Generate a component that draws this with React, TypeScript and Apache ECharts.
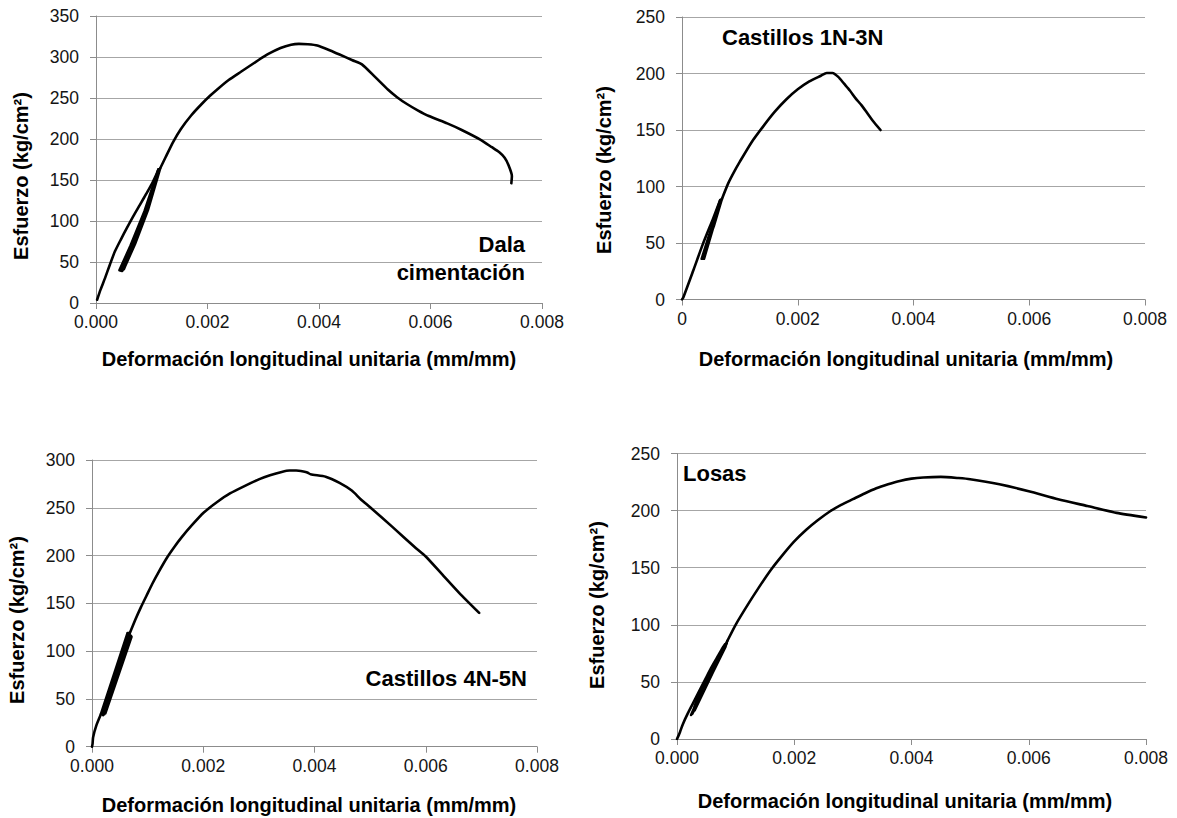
import React, { useEffect, useRef } from "react";
import * as echarts from "echarts";

// ---------- tick labels ----------
const xTickValues = [0, 0.002, 0.004, 0.006, 0.008];
const xTickLabels3 = ["0.000", "0.002", "0.004", "0.006", "0.008"];
const xTickLabelsZero = ["0", "0.002", "0.004", "0.006", "0.008"];
const yMaxDala = 350;
const yMaxCast13 = 250;
const yMaxCast45 = 300;
const yMaxLosas = 250;

// ---------- Dala cimentación ----------
const dalaRise = [
  [0.00002, 4], [0.00008, 16], [0.00016, 30], [0.00025, 47], [0.00034, 63],
  [0.00045, 78], [0.00055, 91], [0.00067, 106], [0.00079, 120], [0.0009, 133],
  [0.001, 145], [0.00109, 158], [0.00112, 163],
];
const dalaCycles = [
  [0.00112, 163], [0.00087, 112], [0.00062, 70], [0.00042, 40],
  [0.00047, 39], [0.00066, 70], [0.0009, 112], [0.00113, 162],
  [0.00089, 112], [0.00064, 70], [0.00045, 41],
  [0.0005, 41], [0.00068, 71], [0.00092, 112], [0.00114, 163],
  [0.00091, 112], [0.00066, 71], [0.00047, 42],
  [0.00051, 43], [0.0007, 72], [0.00093, 113], [0.00115, 164],
];
const dalaEnvelope = [
  [0.00115, 164], [0.00125, 178], [0.00138, 196], [0.00152, 212], [0.00171, 229],
  [0.0019, 243], [0.00205, 253], [0.0022, 262], [0.00238, 272], [0.0026, 282],
  [0.00291, 296], [0.0031, 304], [0.00331, 311], [0.0035, 315], [0.00364, 316],
  [0.0038, 315.5], [0.00397, 314], [0.0042, 308], [0.00437, 303], [0.0046, 296],
  [0.00477, 291], [0.005, 276], [0.00524, 260], [0.0054, 251], [0.00557, 243],
  [0.00577, 235], [0.00597, 228], [0.0063, 219], [0.00656, 211], [0.0069, 199],
  [0.0071, 190], [0.00723, 184], [0.00733, 177], [0.0074, 168], [0.00746, 155],
  [0.00745, 146],
];

// ---------- Castillos 1N-3N ----------
const cast13Rise = [
  [0, 0], [0.00002, 1.5], [0.00019, 25], [0.00036, 49], [0.00054, 72], [0.00066, 88],
];
const cast13Cycles = [
  [0.00066, 88], [0.0005, 62], [0.00034, 36], [0.00038, 36], [0.00053, 62],
  [0.00067, 88], [0.00052, 63], [0.00036, 38], [0.00055, 65], [0.00069, 89],
];
const cast13Envelope = [
  [0.00069, 89], [0.0008, 103], [0.0009, 113], [0.001, 122], [0.0012, 139],
  [0.0014, 153], [0.0016, 166], [0.0018, 177], [0.002, 186], [0.0022, 193],
  [0.0024, 198], [0.0025, 200.5], [0.0026, 200.5], [0.0027, 197], [0.0028, 191],
  [0.0029, 185], [0.003, 178], [0.0031, 172], [0.0032, 165], [0.0033, 158],
  [0.00343, 150],
];

// ---------- Castillos 4N-5N ----------
const cast45Rise = [
  [0, 0], [0.00001, 3], [0.00002, 10], [0.00008, 22.6], [0.00016, 34],
];
const cast45Cycles = [
  [0.00016, 34], [0.00064, 119], [0.0002, 33], [0.00067, 118], [0.00018, 35],
  [0.0007, 116], [0.00022, 34], [0.00066, 119], [0.00024, 35], [0.00071, 115],
  [0.0002, 36], [0.00068, 119],
];
const cast45Envelope = [
  [0.00068, 119], [0.00078, 133], [0.00088, 146], [0.00098, 158], [0.00108, 170],
  [0.0012, 183], [0.00135, 198], [0.00148, 209], [0.00161, 219], [0.0018, 232],
  [0.00201, 245], [0.00225, 256], [0.00248, 265], [0.00275, 273], [0.00301, 280],
  [0.0032, 284], [0.00341, 287.5], [0.00355, 289], [0.00367, 289], [0.0038, 288],
  [0.00387, 287], [0.00393, 285], [0.0042, 282.5], [0.00445, 276], [0.00467, 268],
  [0.00483, 259], [0.005, 250.5], [0.0054, 230], [0.0058, 209], [0.006, 199],
  [0.0063, 180], [0.0066, 161], [0.00696, 140],
];

// ---------- Losas ----------
const losasRise = [
  [0, 0], [0.00005, 6], [0.0001, 13], [0.00018, 22], [0.00027, 31], [0.00037, 41],
  [0.00048, 52], [0.00058, 62], [0.00068, 71], [0.00078, 80], [0.00081, 82],
];
const losasCycles = [
  [0.00081, 82], [0.00028, 24], [0.00083, 81], [0.00026, 22], [0.00085, 84],
  [0.0003, 25], [0.00082, 83], [0.00024, 21], [0.00029, 27], [0.00036, 38],
  [0.00086, 86],
];
const losasEnvelope = [
  [0.00086, 86], [0.001, 100], [0.0012, 117], [0.0014, 133], [0.0016, 148],
  [0.0018, 161], [0.002, 173], [0.0022, 183], [0.0024, 191.5], [0.0026, 199],
  [0.0028, 205], [0.003, 210], [0.0032, 215], [0.0034, 219.5], [0.0036, 223],
  [0.0038, 226], [0.004, 228], [0.0042, 229], [0.0045, 229.5], [0.0048, 228.5],
  [0.005, 227.5], [0.0055, 223], [0.006, 217], [0.0065, 210], [0.007, 204],
  [0.0075, 198], [0.008, 194],
];

// ---------- texts ----------
const xTitle = "Deformación longitudinal unitaria (mm/mm)";
const yTitle = "Esfuerzo (kg/cm²)";
const panelTitles = ["Dala\ncimentación", "Castillos 1N-3N", "Castillos 4N-5N", "Losas"];

const FONT = '"Liberation Sans", Arial, Helvetica, sans-serif';
const AXIS_COLOR = "#8c8c8c";
const GRID_COLOR = "#a6a6a6";

const panels = [
  {
    grid: { left: 96, top: 16, width: 446, height: 287 },
    yMax: yMaxDala, xLabels: xTickLabels3,
    rise: dalaRise, cycles: dalaCycles, envelope: dalaEnvelope,
    xTitlePos: [309, 359], yTitlePos: [21, 176],
    title: { x: 525, y: 258, align: "right" },
  },
  {
    grid: { left: 682, top: 17, width: 463, height: 282.5 },
    yMax: yMaxCast13, xLabels: xTickLabelsZero,
    rise: cast13Rise, cycles: cast13Cycles, envelope: cast13Envelope,
    xTitlePos: [906, 359], yTitlePos: [604, 170],
    title: { x: 722, y: 37, align: "left" },
  },
  {
    grid: { left: 92, top: 460, width: 445, height: 286.7 },
    yMax: yMaxCast45, xLabels: xTickLabels3,
    rise: cast45Rise, cycles: cast45Cycles, envelope: cast45Envelope,
    xTitlePos: [309, 805], yTitlePos: [17, 620],
    title: { x: 527, y: 678, align: "right" },
  },
  {
    grid: { left: 677, top: 453.5, width: 469, height: 285.5 },
    yMax: yMaxLosas, xLabels: xTickLabels3,
    rise: losasRise, cycles: losasCycles, envelope: losasEnvelope,
    xTitlePos: [905, 801], yTitlePos: [597, 605],
    title: { x: 683, y: 473, align: "left" },
  },
];

function buildOption() {
  const grids: any[] = [];
  const xAxes: any[] = [];
  const yAxes: any[] = [];
  const series: any[] = [];
  const graphics: any[] = [];

  panels.forEach((p, i) => {
    grids.push({ ...p.grid, containLabel: false });
    xAxes.push({
      type: "value",
      gridIndex: i,
      min: 0,
      max: 0.008,
      interval: 0.002,
      axisLine: { show: true, onZero: false, lineStyle: { color: AXIS_COLOR, width: 1 } },
      axisTick: { show: true, length: 6, lineStyle: { color: AXIS_COLOR } },
      splitLine: { show: false },
      axisLabel: {
        fontSize: 17.5,
        color: "#141414",
        fontFamily: FONT,
        margin: 10,
        formatter: (v: number) => {
          const k = xTickValues.findIndex((t) => Math.abs(t - v) < 1e-9);
          return k >= 0 ? p.xLabels[k] : "";
        },
      },
    });
    yAxes.push({
      type: "value",
      gridIndex: i,
      min: 0,
      max: p.yMax,
      interval: 50,
      axisLine: { show: true, lineStyle: { color: AXIS_COLOR, width: 1 } },
      axisTick: { show: true, length: 6, lineStyle: { color: AXIS_COLOR } },
      splitLine: { show: true, lineStyle: { color: GRID_COLOR, width: 1 } },
      axisLabel: { fontSize: 17.5, color: "#141414", fontFamily: FONT, margin: 17 },
    });
    const segs = [
      { name: "rise", data: p.rise, smooth: 0.2 },
      { name: "cycles", data: p.cycles, smooth: false },
      { name: "envelope", data: p.envelope, smooth: 0.2 },
    ];
    segs.forEach((s) => {
      series.push({
        type: "line",
        name: `${panelTitles[i]} ${s.name}`,
        xAxisIndex: i,
        yAxisIndex: i,
        data: s.data,
        smooth: s.smooth,
        showSymbol: false,
        symbol: "none",
        silent: true,
        lineStyle: { color: "#000", width: 2.6, cap: "round", join: "round" },
      });
    });

    graphics.push({
      type: "text",
      x: p.xTitlePos[0],
      y: p.xTitlePos[1],
      style: {
        text: xTitle,
        fontSize: 20,
        fontWeight: "bold",
        fontFamily: FONT,
        fill: "#000",
        textAlign: "center",
        textVerticalAlign: "middle",
      },
    });
    graphics.push({
      type: "text",
      x: p.yTitlePos[0],
      y: p.yTitlePos[1],
      rotation: Math.PI / 2,
      style: {
        text: yTitle,
        fontSize: 20,
        fontWeight: "bold",
        fontFamily: FONT,
        fill: "#000",
        textAlign: "center",
        textVerticalAlign: "middle",
      },
    });
    graphics.push({
      type: "text",
      x: p.title.x,
      y: p.title.y,
      style: {
        text: panelTitles[i],
        fontSize: 22,
        fontWeight: "bold",
        fontFamily: FONT,
        fill: "#000",
        textAlign: p.title.align,
        textVerticalAlign: "middle",
        lineHeight: 28,
      },
    });
  });

  return {
    animation: false,
    backgroundColor: "#ffffff",
    textStyle: { fontFamily: FONT },
    grid: grids,
    xAxis: xAxes,
    yAxis: yAxes,
    series,
    graphic: graphics,
  };
}

export default function App() {
  const ref = useRef<HTMLDivElement>(null);
  useEffect(() => {
    if (!ref.current) return;
    const chart = echarts.init(ref.current, undefined, { renderer: "svg" });
    chart.setOption(buildOption() as any);
    return () => chart.dispose();
  }, []);
  return (
    <div
      ref={ref}
      style={{ position: "fixed", left: 0, top: 0, width: 1177, height: 818, background: "#fff" }}
    />
  );
}
